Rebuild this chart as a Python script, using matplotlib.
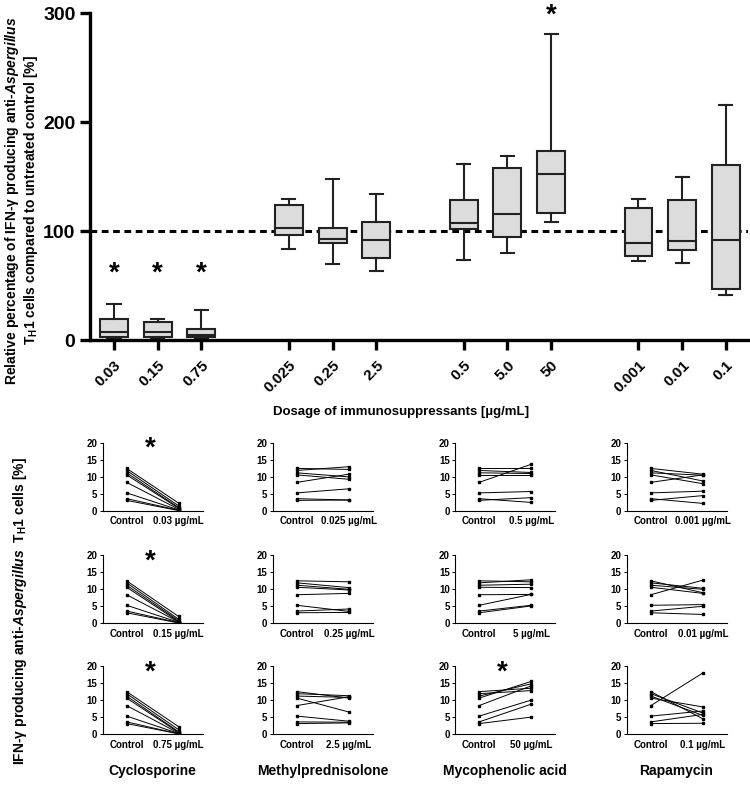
import numpy as np
import matplotlib
matplotlib.use("Agg")
from matplotlib import pyplot as plt

plt.rcParams['font.family'] = ['Liberation Sans', 'DejaVu Sans']
plt.rcParams['mathtext.fontset'] = 'custom'
plt.rcParams['mathtext.rm'] = 'Liberation Sans:bold'
plt.rcParams['mathtext.it'] = 'Liberation Sans:italic:bold'
plt.rcParams['mathtext.bf'] = 'Liberation Sans:bold'

# --- top panel: relative % of control (box plots) ---
dose_labels = ["0.03", "0.15", "0.75", "0.025", "0.25", "2.5",
               "0.5", "5.0", "50", "0.001", "0.01", "0.1"]
dose_pos = [1, 2, 3, 5, 6, 7, 9, 10, 11, 13, 14, 15]
whis_low = [1, 1, 1, 84, 70, 64, 74, 80, 109, 73, 71, 42]
box_q1 = [3, 3, 3, 97, 89, 76, 102, 95, 117, 77, 83, 47]
box_med = [7.5, 8, 5, 103, 93, 92, 108, 116, 153, 89, 91, 92]
box_q3 = [20, 17, 10, 124, 103, 109, 129, 158, 174, 121, 129, 161]
whis_high = [33, 20, 28, 130, 148, 134, 162, 169, 281, 130, 150, 216]
signif_top = [0, 1, 2, 8]          # indices with asterisk
signif_y = [61, 61, 61, 298]

# --- bottom panels: paired % of TH1 cells (control -> treated) ---
control = [12.5, 11.9, 11.2, 10.6, 8.4, 5.3, 3.6, 3.1]
drugs = ["Cyclosporine", "Methylprednisolone", "Mycophenolic acid", "Rapamycin"]
doses = [["0.03 µg/mL", "0.15 µg/mL", "0.75 µg/mL"],
         ["0.025 µg/mL", "0.25 µg/mL", "2.5 µg/mL"],
         ["0.5 µg/mL", "5 µg/mL", "50 µg/mL"],
         ["0.001 µg/mL", "0.01 µg/mL", "0.1 µg/mL"]]
csa = [[2.3, 1.5, 1.0, 0.8, 0.5, 0.3, 0.2, 0.1],
       [2.0, 1.2, 0.8, 0.5, 0.4, 0.3, 0.2, 0.1],
       [2.2, 1.3, 0.7, 0.5, 0.3, 0.2, 0.1, 0.1]]
mp = [[12.2, 13.0, 10.0, 9.3, 10.8, 6.5, 3.2, 3.2],
      [12.2, 10.5, 10.0, 9.8, 8.8, 3.5, 4.2, 3.2],
      [10.6, 11.3, 10.8, 6.5, 11.0, 3.8, 3.5, 3.3]]
mpa = [[12.5, 11.3, 11.0, 10.6, 13.7, 5.7, 2.5, 3.9],
       [12.2, 12.8, 11.5, 10.5, 8.5, 8.5, 5.3, 5.1],
       [13.5, 12.8, 14.8, 15.5, 14.2, 10.0, 8.8, 5.0]]
rapa = [[10.8, 8.8, 10.5, 8.0, 10.6, 5.8, 2.2, 4.5],
        [9.0, 10.3, 10.0, 8.8, 12.7, 5.5, 5.0, 2.6],
        [4.5, 6.2, 5.5, 8.0, 18.0, 6.8, 5.8, 3.2]]
treated = [csa, mp, mpa, rapa]
signif_small = [(0, 0), (0, 1), (0, 2), (2, 2)]   # (drug, row)

fig = plt.figure(figsize=(7.5, 7.86), dpi=100)

# top box plot
ax = fig.add_axes([0.12, 0.567, 0.877, 0.416])
stats = []
for i in range(len(dose_labels)):
    stats.append(dict(whislo=whis_low[i], q1=box_q1[i], med=box_med[i],
                      q3=box_q3[i], whishi=whis_high[i], fliers=[]))
ax.bxp(stats, positions=dose_pos, widths=0.64, patch_artist=True,
       showfliers=False,
       boxprops=dict(facecolor='#dcdcdc', edgecolor='#222222', linewidth=1.5),
       medianprops=dict(color='#222222', linewidth=1.5),
       whiskerprops=dict(color='#222222', linewidth=1.5),
       capprops=dict(color='#222222', linewidth=1.5), capwidths=0.3)
ax.axhline(100, color='black', linestyle=(0, (2.2, 1.5)), linewidth=2.2, zorder=0)
for i, yv in zip(signif_top, signif_y):
    ax.text(dose_pos[i], yv, "*", ha='center', va='center',
            fontsize=20, fontweight='bold')
ax.set_xlim(0.45, 15.5)
ax.set_ylim(0, 300)
ax.set_yticks([0, 100, 200, 300])
ax.set_xticks(dose_pos)
ax.set_xticklabels(dose_labels, rotation=45, ha='right',
                   rotation_mode='anchor', fontsize=11, fontweight='bold')
for lab in ax.get_yticklabels():
    lab.set_fontsize(14)
    lab.set_fontweight('bold')
ax.spines['top'].set_visible(False)
ax.spines['right'].set_visible(False)
ax.spines['left'].set_linewidth(2.4)
ax.spines['bottom'].set_linewidth(2.4)
ax.tick_params(axis='both', width=2.4, length=7, direction='out')
ax.tick_params(axis='x', pad=6)
ax.patch.set_alpha(0)

fig.text(0.029, 0.745,
         "Relative percentage of IFN-γ producing anti-$Aspergillus$\n"
         "T$_\\mathrm{H}$1 cells compared to untreated control [%]",
         rotation=90, ha='center', va='center', multialignment='center',
         fontsize=10, fontweight='bold', linespacing=1.1)
fig.text(0.535, 0.476, "Dosage of immunosuppressants [µg/mL]",
         ha='center', va='center', fontsize=9.5, fontweight='bold')

# small paired panels
lefts = [0.137, 0.364, 0.607, 0.836]
bottoms = [0.350, 0.207, 0.066]
for d in range(4):
    for r in range(3):
        a = fig.add_axes([lefts[d], bottoms[r], 0.133, 0.0865])
        for c, t in zip(control, treated[d][r]):
            a.plot([0, 1], [c, t], color='black', linewidth=0.7,
                   marker='s', markersize=1.8)
        a.set_xlim(-0.46, 1.46)
        a.set_ylim(0, 20)
        a.set_yticks([0, 5, 10, 15, 20])
        a.set_xticks([0, 1])
        a.set_xticklabels(["Control", doses[d][r]])
        a.tick_params(labelsize=7, length=2, width=0.7, pad=2)
        a.tick_params(axis='x', length=0, pad=4)
        for lab in a.get_xticklabels() + a.get_yticklabels():
            lab.set_fontweight('bold')
        a.spines['top'].set_visible(False)
        a.spines['right'].set_visible(False)
        a.spines['left'].set_linewidth(0.8)
        a.spines['bottom'].set_linewidth(0.8)
        if (d, r) in signif_small:
            a.text(0.45, 18.2, "*", ha='center', va='center',
                   fontsize=20, fontweight='bold')
    fig.text(lefts[d] + 0.066, 0.01, drugs[d], ha='center', va='bottom',
             fontsize=10, fontweight='bold')

fig.text(0.027, 0.222,
         "IFN-γ producing anti-$Aspergillus$  T$_\\mathrm{H}$1 cells [%]",
         rotation=90, ha='center', va='center', fontsize=10,
         fontweight='bold')

fig.savefig("out.png", dpi=100)
